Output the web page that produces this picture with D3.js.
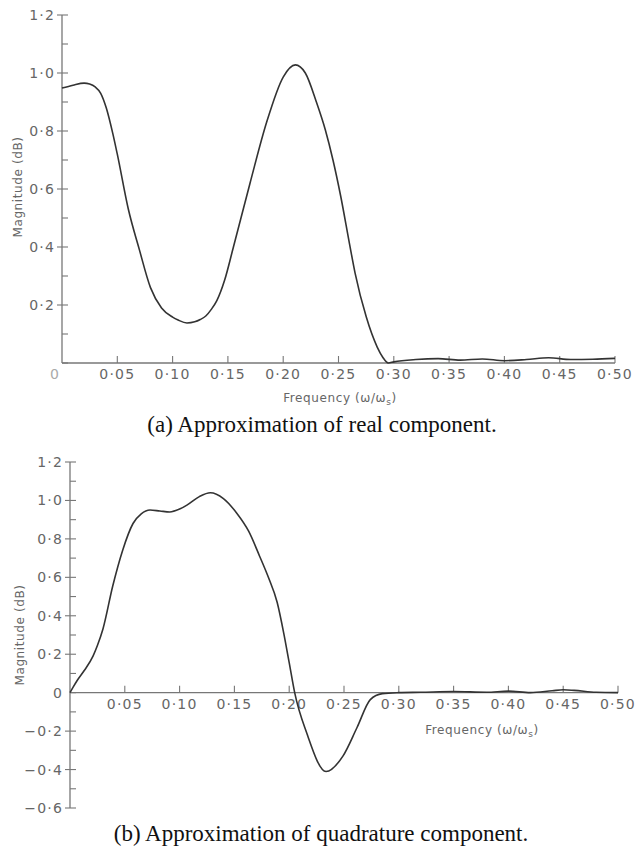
<!DOCTYPE html>
<html>
<head>
<meta charset="utf-8">
<script src="https://cdn.jsdelivr.net/npm/d3@7"></script>
<style>
  body { margin: 0; background: #fff; }
  .tick-label { font-family: "DejaVu Sans", sans-serif; font-size: 14px; fill: #666; letter-spacing: 1.2px; }
  .axis-title { font-family: "DejaVu Sans", sans-serif; font-size: 12px; fill: #666; letter-spacing: 0.6px; }
  .caption { font-family: "Liberation Serif", serif; font-size: 23px; fill: #111; }
</style>
</head>
<body>
<svg id="chart" width="643" height="846"></svg>
<script>
// (a) real component
const freqA = [0, 0.01, 0.02, 0.025, 0.03, 0.035, 0.04, 0.046, 0.05, 0.06, 0.07, 0.08, 0.09, 0.10, 0.105,
  0.113, 0.12, 0.125, 0.13, 0.135, 0.14, 0.147, 0.155, 0.17, 0.185, 0.20, 0.211, 0.22, 0.23, 0.238,
  0.245, 0.252, 0.26, 0.265, 0.275, 0.285, 0.29, 0.295, 0.30, 0.32, 0.34, 0.36,
  0.38, 0.40, 0.42, 0.44, 0.46, 0.48, 0.50];
const realA = [0.948, 0.958, 0.965, 0.962, 0.952, 0.93, 0.88, 0.79, 0.72, 0.53, 0.39, 0.26, 0.19, 0.158, 0.148,
  0.138, 0.142, 0.15, 0.162, 0.185, 0.215, 0.285, 0.40, 0.62, 0.83, 0.986, 1.028, 1.0, 0.90, 0.805,
  0.70, 0.575, 0.41, 0.31, 0.16, 0.055, 0.02, 0.0, 0.004, 0.012, 0.015, 0.010,
  0.014, 0.008, 0.012, 0.018, 0.012, 0.013, 0.016];

// (b) quadrature component
const freqB = [0, 0.003, 0.0064, 0.013, 0.021, 0.025, 0.030, 0.039, 0.048, 0.0575, 0.065, 0.073, 0.082, 0.091, 0.10, 0.107,
  0.118, 0.128, 0.14, 0.152, 0.163, 0.173, 0.181, 0.189, 0.195, 0.20, 0.205, 0.216, 0.2336, 0.249, 0.262, 0.274,
  0.285, 0.30, 0.32, 0.35, 0.38, 0.40, 0.42, 0.44, 0.45, 0.46, 0.48, 0.50];
const quadB = [0, 0.03, 0.062, 0.115, 0.19, 0.245, 0.33, 0.555, 0.74, 0.88, 0.93, 0.95, 0.945, 0.94, 0.955, 0.977,
  1.02, 1.04, 1.01, 0.935, 0.84, 0.71, 0.60, 0.47, 0.31, 0.156, 0.0, -0.21, -0.41, -0.33, -0.18, -0.036,
  -0.005, 0.0, 0.002, 0.006, 0.002, 0.008, 0.0, 0.01, 0.015, 0.012, 0.002, 0.0];

const xTicks = [0.05, 0.10, 0.15, 0.20, 0.25, 0.30, 0.35, 0.40, 0.45, 0.50];
const yTicksA = [0.2, 0.4, 0.6, 0.8, 1.0, 1.2];
const yTicksB = [-0.6, -0.4, -0.2, 0, 0.2, 0.4, 0.6, 0.8, 1.0, 1.2];

const fmt = v => v === 0 ? "0" : (v < 0 ? "\u2212" : "") + Math.abs(v).toFixed(1).replace(".", "\u00b7");
const fmtX = v => v.toFixed(2).replace(".", "\u00b7");

const svg = d3.select("#chart");
const axisColor = "#777";

function panel(cfg) {
  const x = d3.scaleLinear().domain([0, 0.5]).range(cfg.xr);
  const y = d3.scaleLinear().domain(cfg.yd).range(cfg.yr);
  const g = svg.append("g");

  // y axis line
  g.append("line").attr("x1", x(0)).attr("x2", x(0))
    .attr("y1", y(cfg.yd[1])).attr("y2", y(cfg.yd[0]))
    .attr("stroke", axisColor).attr("stroke-width", 1.3);
  // x axis line (at zero)
  g.append("line").attr("x1", x(0)).attr("x2", x(0.5))
    .attr("y1", y(0)).attr("y2", y(0))
    .attr("stroke", axisColor).attr("stroke-width", 1.3);

  // minor y ticks (inside)
  const minor = d3.range(Math.round(cfg.yd[0] * 10), Math.round(cfg.yd[1] * 10) + 1).map(d => d / 10);
  g.selectAll(".ymin").data(minor).join("line")
    .attr("x1", x(0)).attr("x2", x(0) + 6)
    .attr("y1", d => y(d)).attr("y2", d => y(d))
    .attr("stroke", axisColor).attr("stroke-width", 1.1);
  // major y ticks (outside)
  g.selectAll(".ymaj").data(cfg.yTicks.filter(d => d !== 0)).join("line")
    .attr("x1", x(0) - 5).attr("x2", x(0))
    .attr("y1", d => y(d)).attr("y2", d => y(d))
    .attr("stroke", axisColor).attr("stroke-width", 1.1);
  g.selectAll(".ylab").data(cfg.yTicks).join("text")
    .attr("class", "tick-label")
    .attr("x", x(0) - 7).attr("y", d => y(d)).attr("dy", "0.36em")
    .attr("text-anchor", "end")
    .text(d => fmt(d));

  // x ticks (inside, upwards)
  g.selectAll(".xt").data(xTicks).join("line")
    .attr("x1", d => x(d)).attr("x2", d => x(d))
    .attr("y1", y(0)).attr("y2", y(0) - 7)
    .attr("stroke", axisColor).attr("stroke-width", 1.1);
  g.selectAll(".xlab").data(xTicks).join("text")
    .attr("class", "tick-label")
    .attr("x", d => x(d)).attr("y", y(0) + 16)
    .attr("text-anchor", "middle")
    .text(d => fmtX(d));
  if (cfg.zeroX) {
    g.append("text").attr("class", "tick-label").attr("x", x(0) - 7).attr("y", y(0) + 16)
      .attr("text-anchor", "middle").style("fill", "#aaa").text("0");
  }

  // axis titles
  const ft = g.append("text").attr("class", "axis-title")
    .attr("x", cfg.freqX).attr("y", cfg.freqY).attr("text-anchor", "middle");
  ft.append("tspan").text("Frequency (\u03c9/\u03c9");
  ft.append("tspan").attr("font-size", "9px").attr("dy", "3").text("s");
  ft.append("tspan").attr("dy", "-3").text(")");

  g.append("text").attr("class", "axis-title")
    .attr("transform", `translate(${cfg.magX},${cfg.magY}) rotate(-90)`)
    .attr("text-anchor", "middle").text("Magnitude (dB)");

  // curve
  const line = d3.line().x(d => x(d[0])).y(d => y(d[1])).curve(d3.curveMonotoneX);
  g.append("path").datum(d3.zip(cfg.fx, cfg.fy))
    .attr("d", line).attr("fill", "none")
    .attr("stroke", "#333").attr("stroke-width", 1.6);

  svg.append("text").attr("class", "caption")
    .attr("x", cfg.capX).attr("y", cfg.capY).attr("text-anchor", "middle").text(cfg.caption);
}

panel({
  xr: [62, 615], yd: [0, 1.2], yr: [363, 15], yTicks: yTicksA, zeroX: true,
  fx: freqA, fy: realA, freqX: 340, freqY: 402, magX: 22, magY: 187,
  capX: 322, capY: 432, caption: "(a) Approximation of real component."
});
panel({
  xr: [70, 618], yd: [-0.6, 1.2], yr: [808, 462], yTicks: yTicksB, zeroX: false,
  fx: freqB, fy: quadB, freqX: 482, freqY: 734, magX: 24, magY: 635,
  capX: 321, capY: 841, caption: "(b) Approximation of quadrature component."
});
</script>
</body>
</html>
